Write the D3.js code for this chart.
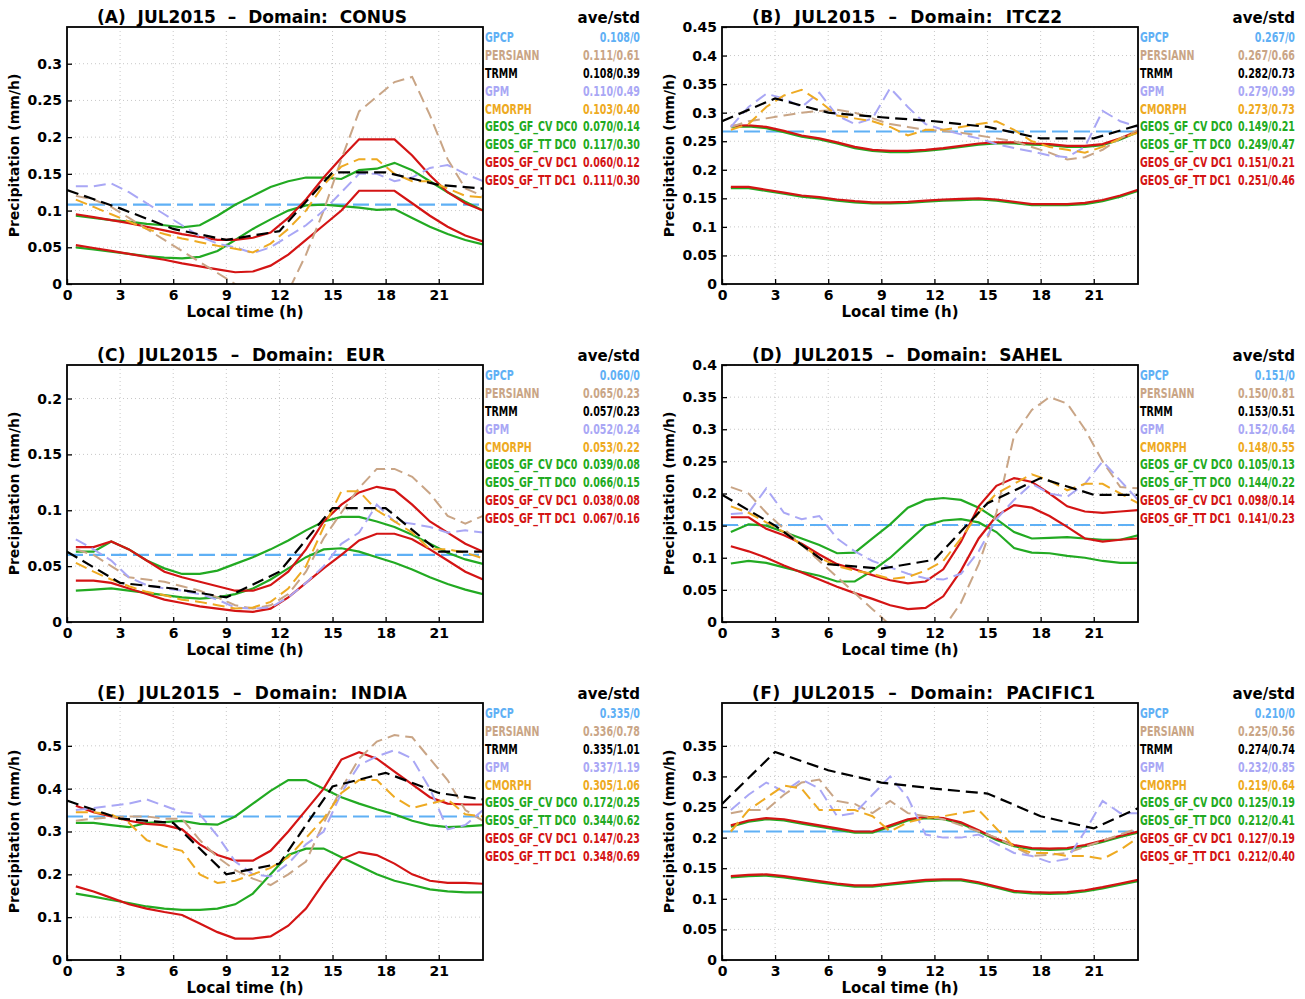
<!DOCTYPE html>
<html>
<head>
<meta charset="utf-8">
<script src="https://cdn.jsdelivr.net/npm/d3@7"></script>
<style>
  body { margin: 0; background: #fff; }
  text { font-family: "DejaVu Sans", sans-serif; }
  .leg { font-weight: bold; font-size: 14px; }
</style>
</head>
<body>
<svg id="chart" width="1305" height="999"></svg>
<script>
// Horas locales (medias horarias) y horas de TRMM (3-horario)
const hours = d3.range(24).map(i => i + 0.5);
const trmmHours = [0, 3, 6, 9, 12, 15, 18, 21, 23.5];
const xTicks = [0, 3, 6, 9, 12, 15, 18, 21];

const seriesNames = ["GPCP", "PERSIANN", "TRMM", "GPM", "CMORPH", "GEOS_GF_CV DC0", "GEOS_GF_TT DC0", "GEOS_GF_CV DC1", "GEOS_GF_TT DC1"];
const seriesColors = ["#5fb0f5", "#c9a586", "#000000", "#a9a7f5", "#eeaa22", "#22aa22", "#22aa22", "#d41414", "#d41414"];

// (A) CONUS
const A_GPCP = 0.108;
const A_PERSIANN = [0.12,0.115,0.105,0.09,0.075,0.06,0.045,0.03,0.015,0.0,-0.02,-0.03,-0.01,0.04,0.10,0.17,0.235,0.255,0.275,0.282,0.23,0.17,0.13,0.12];
const A_TRMM = [0.128,0.103,0.075,0.06,0.072,0.152,0.152,0.135,0.13];
const A_GPM = [0.133,0.133,0.137,0.125,0.11,0.095,0.08,0.065,0.055,0.05,0.042,0.05,0.065,0.08,0.10,0.125,0.15,0.15,0.14,0.145,0.158,0.162,0.15,0.14];
const A_CMORPH = [0.115,0.105,0.095,0.085,0.075,0.068,0.062,0.057,0.052,0.048,0.043,0.055,0.075,0.10,0.135,0.16,0.17,0.17,0.15,0.14,0.14,0.13,0.12,0.118];
const A_CV0 = [0.05,0.047,0.044,0.041,0.038,0.036,0.035,0.037,0.045,0.06,0.075,0.088,0.1,0.107,0.108,0.106,0.104,0.101,0.102,0.09,0.078,0.068,0.06,0.054];
const A_TT0 = [0.093,0.09,0.087,0.085,0.082,0.08,0.077,0.08,0.093,0.108,0.12,0.132,0.14,0.145,0.145,0.143,0.155,0.157,0.165,0.155,0.14,0.125,0.112,0.10];
const A_CV1 = [0.053,0.049,0.045,0.041,0.037,0.033,0.028,0.024,0.02,0.016,0.017,0.025,0.04,0.06,0.08,0.1,0.127,0.127,0.127,0.11,0.093,0.078,0.066,0.058];
const A_TT1 = [0.095,0.091,0.087,0.083,0.078,0.073,0.068,0.064,0.06,0.06,0.063,0.07,0.09,0.115,0.145,0.172,0.197,0.197,0.197,0.175,0.148,0.125,0.11,0.10];
const A_STATS = ["0.108/0", "0.111/0.61", "0.108/0.39", "0.110/0.49", "0.103/0.40", "0.070/0.14", "0.117/0.30", "0.060/0.12", "0.111/0.30"];

// (B) ITCZ2
const B_GPCP = 0.267;
const B_PERSIANN = [0.275,0.285,0.29,0.295,0.3,0.303,0.305,0.3,0.29,0.28,0.275,0.27,0.268,0.265,0.26,0.255,0.25,0.24,0.23,0.218,0.222,0.235,0.255,0.27];
const B_TRMM = [0.285,0.325,0.30,0.292,0.285,0.275,0.255,0.255,0.278];
const B_GPM = [0.275,0.31,0.333,0.325,0.31,0.335,0.295,0.28,0.29,0.343,0.31,0.28,0.27,0.262,0.255,0.245,0.238,0.232,0.225,0.222,0.24,0.303,0.285,0.275];
const B_CMORPH = [0.27,0.28,0.31,0.33,0.34,0.32,0.295,0.29,0.285,0.275,0.26,0.27,0.27,0.275,0.28,0.285,0.27,0.25,0.24,0.235,0.23,0.24,0.255,0.265];
const B_CV0 = [0.168,0.168,0.163,0.158,0.153,0.15,0.146,0.143,0.141,0.141,0.142,0.144,0.146,0.147,0.148,0.146,0.142,0.138,0.138,0.138,0.14,0.145,0.153,0.163];
const B_TT0 = [0.275,0.276,0.273,0.266,0.258,0.253,0.246,0.238,0.233,0.231,0.231,0.233,0.236,0.24,0.244,0.246,0.246,0.244,0.243,0.24,0.24,0.243,0.253,0.266];
const B_CV1 = [0.17,0.17,0.165,0.16,0.155,0.152,0.148,0.145,0.143,0.143,0.144,0.146,0.148,0.149,0.15,0.148,0.144,0.14,0.14,0.14,0.142,0.147,0.155,0.165];
const B_TT1 = [0.277,0.278,0.275,0.268,0.26,0.255,0.248,0.24,0.235,0.233,0.233,0.235,0.238,0.242,0.246,0.248,0.248,0.246,0.245,0.242,0.242,0.245,0.255,0.268];
const B_STATS = ["0.267/0", "0.267/0.66", "0.282/0.73", "0.279/0.99", "0.273/0.73", "0.149/0.21", "0.249/0.47", "0.151/0.21", "0.251/0.46"];

// (C) EUR
const C_GPCP = 0.060;
const C_PERSIANN = [0.065,0.06,0.05,0.04,0.038,0.036,0.032,0.028,0.022,0.015,0.012,0.015,0.025,0.045,0.075,0.098,0.12,0.137,0.137,0.13,0.115,0.095,0.088,0.095];
const C_TRMM = [0.063,0.035,0.03,0.022,0.045,0.102,0.102,0.063,0.063];
const C_GPM = [0.074,0.065,0.055,0.04,0.033,0.03,0.028,0.025,0.02,0.013,0.012,0.013,0.022,0.035,0.05,0.07,0.08,0.105,0.09,0.088,0.085,0.08,0.082,0.08];
const C_CMORPH = [0.053,0.045,0.038,0.032,0.027,0.024,0.02,0.018,0.015,0.012,0.013,0.018,0.03,0.05,0.085,0.117,0.117,0.1,0.09,0.08,0.065,0.065,0.062,0.057];
const C_CV0 = [0.028,0.029,0.03,0.028,0.026,0.024,0.022,0.021,0.022,0.025,0.03,0.038,0.048,0.058,0.065,0.066,0.063,0.058,0.053,0.047,0.04,0.034,0.029,0.025];
const C_TT0 = [0.063,0.063,0.072,0.065,0.055,0.048,0.043,0.043,0.046,0.052,0.058,0.065,0.073,0.082,0.09,0.094,0.094,0.09,0.085,0.078,0.07,0.062,0.056,0.052];
const C_CV1 = [0.037,0.037,0.035,0.03,0.025,0.02,0.017,0.014,0.012,0.01,0.009,0.012,0.022,0.035,0.048,0.06,0.073,0.079,0.079,0.074,0.065,0.055,0.045,0.038];
const C_TT1 = [0.067,0.067,0.072,0.065,0.055,0.045,0.04,0.036,0.032,0.028,0.028,0.033,0.045,0.065,0.09,0.105,0.116,0.121,0.118,0.105,0.09,0.08,0.07,0.063];
const C_STATS = ["0.060/0", "0.065/0.23", "0.057/0.23", "0.052/0.24", "0.053/0.22", "0.039/0.08", "0.066/0.15", "0.038/0.08", "0.067/0.16"];

// (D) SAHEL
const D_GPCP = 0.151;
const D_PERSIANN = [0.21,0.2,0.17,0.145,0.12,0.095,0.07,0.045,0.02,-0.005,-0.03,-0.03,-0.01,0.03,0.09,0.17,0.29,0.33,0.35,0.34,0.30,0.25,0.21,0.208];
const D_TRMM = [0.198,0.15,0.09,0.083,0.097,0.185,0.224,0.198,0.198];
const D_GPM = [0.168,0.17,0.208,0.17,0.16,0.165,0.13,0.11,0.095,0.085,0.075,0.068,0.066,0.075,0.11,0.16,0.19,0.215,0.2,0.195,0.215,0.25,0.22,0.19];
const D_CMORPH = [0.18,0.17,0.155,0.14,0.12,0.1,0.087,0.08,0.075,0.067,0.07,0.08,0.095,0.13,0.17,0.2,0.215,0.23,0.22,0.205,0.215,0.215,0.2,0.185];
const D_CV0 = [0.091,0.095,0.092,0.085,0.078,0.072,0.063,0.063,0.08,0.1,0.125,0.15,0.158,0.16,0.155,0.14,0.115,0.108,0.107,0.103,0.1,0.095,0.092,0.092];
const D_TT0 = [0.14,0.152,0.15,0.14,0.13,0.12,0.107,0.108,0.13,0.152,0.178,0.19,0.193,0.19,0.178,0.16,0.14,0.13,0.131,0.132,0.13,0.128,0.128,0.135];
const D_CV1 = [0.118,0.11,0.1,0.088,0.077,0.066,0.055,0.045,0.036,0.026,0.02,0.022,0.04,0.08,0.13,0.165,0.182,0.178,0.165,0.148,0.13,0.125,0.128,0.13];
const D_TT1 = [0.163,0.163,0.145,0.135,0.122,0.105,0.09,0.082,0.073,0.065,0.06,0.063,0.082,0.125,0.18,0.212,0.224,0.218,0.2,0.18,0.172,0.17,0.172,0.174];
const D_STATS = ["0.151/0", "0.150/0.81", "0.153/0.51", "0.152/0.64", "0.148/0.55", "0.105/0.13", "0.144/0.22", "0.098/0.14", "0.141/0.23"];

// (E) INDIA
const E_GPCP = 0.335;
const E_PERSIANN = [0.325,0.33,0.333,0.335,0.335,0.33,0.33,0.28,0.24,0.21,0.19,0.175,0.2,0.23,0.32,0.4,0.47,0.51,0.525,0.52,0.47,0.42,0.35,0.325];
const E_TRMM = [0.372,0.33,0.32,0.2,0.225,0.405,0.437,0.39,0.375];
const E_GPM = [0.35,0.355,0.36,0.365,0.375,0.36,0.345,0.34,0.29,0.23,0.2,0.195,0.225,0.27,0.3,0.39,0.455,0.475,0.49,0.47,0.4,0.305,0.315,0.35];
const E_CMORPH = [0.345,0.345,0.34,0.32,0.28,0.265,0.255,0.2,0.18,0.185,0.2,0.215,0.24,0.285,0.33,0.39,0.42,0.42,0.38,0.355,0.365,0.375,0.34,0.335];
const E_CV0 = [0.155,0.148,0.14,0.133,0.125,0.12,0.117,0.117,0.12,0.13,0.155,0.2,0.245,0.26,0.26,0.24,0.22,0.2,0.185,0.175,0.165,0.16,0.158,0.158];
const E_TT0 = [0.32,0.32,0.315,0.31,0.32,0.322,0.325,0.318,0.316,0.335,0.365,0.395,0.42,0.42,0.4,0.38,0.365,0.352,0.34,0.325,0.315,0.31,0.312,0.315];
const E_CV1 = [0.172,0.16,0.145,0.13,0.12,0.112,0.105,0.085,0.065,0.05,0.05,0.055,0.08,0.12,0.18,0.235,0.252,0.245,0.225,0.2,0.185,0.18,0.18,0.178];
const E_TT1 = [0.36,0.345,0.335,0.325,0.318,0.315,0.305,0.27,0.245,0.232,0.232,0.255,0.3,0.35,0.4,0.468,0.485,0.47,0.44,0.41,0.38,0.365,0.363,0.363];
const E_STATS = ["0.335/0", "0.336/0.78", "0.335/1.01", "0.337/1.19", "0.305/1.06", "0.172/0.25", "0.344/0.62", "0.147/0.23", "0.348/0.69"];

// (F) PACIFIC1
const F_GPCP = 0.210;
const F_PERSIANN = [0.24,0.245,0.245,0.27,0.29,0.295,0.26,0.255,0.24,0.26,0.24,0.235,0.23,0.22,0.21,0.2,0.185,0.17,0.172,0.175,0.185,0.195,0.205,0.215];
const F_TRMM = [0.255,0.34,0.31,0.29,0.28,0.272,0.235,0.215,0.248];
const F_GPM = [0.245,0.27,0.29,0.275,0.295,0.28,0.235,0.24,0.27,0.3,0.265,0.205,0.2,0.2,0.205,0.19,0.175,0.17,0.16,0.165,0.21,0.26,0.24,0.24];
const F_CMORPH = [0.21,0.245,0.265,0.285,0.28,0.245,0.245,0.245,0.235,0.21,0.225,0.232,0.235,0.24,0.245,0.215,0.185,0.175,0.175,0.17,0.17,0.165,0.18,0.2];
const F_CV0 = [0.135,0.137,0.138,0.135,0.131,0.127,0.123,0.12,0.12,0.123,0.126,0.129,0.13,0.13,0.125,0.118,0.111,0.109,0.108,0.109,0.112,0.117,0.123,0.129];
const F_TT0 = [0.218,0.226,0.23,0.228,0.223,0.218,0.213,0.208,0.208,0.218,0.228,0.232,0.23,0.223,0.21,0.196,0.186,0.181,0.18,0.181,0.186,0.193,0.201,0.208];
const F_CV1 = [0.137,0.139,0.14,0.137,0.133,0.129,0.125,0.122,0.122,0.125,0.128,0.131,0.132,0.132,0.127,0.12,0.113,0.111,0.11,0.111,0.114,0.119,0.125,0.131];
const F_TT1 = [0.22,0.228,0.232,0.23,0.225,0.22,0.215,0.21,0.21,0.22,0.23,0.234,0.232,0.225,0.212,0.198,0.188,0.183,0.182,0.183,0.188,0.195,0.203,0.21];
const F_STATS = ["0.210/0", "0.225/0.56", "0.274/0.74", "0.232/0.85", "0.219/0.64", "0.125/0.19", "0.212/0.41", "0.127/0.19", "0.212/0.40"];

const panels = [
  { label: "(A)", domain: "CONUS", left: 67, top: 27, ymax: 0.35, yTicks: d3.range(0, 0.301, 0.05),
    gpcp: A_GPCP, obs: [A_PERSIANN, A_TRMM, A_GPM, A_CMORPH], models: [A_CV0, A_TT0, A_CV1, A_TT1], stats: A_STATS },
  { label: "(B)", domain: "ITCZ2", left: 722, top: 27, ymax: 0.45, yTicks: d3.range(0, 0.451, 0.05),
    gpcp: B_GPCP, obs: [B_PERSIANN, B_TRMM, B_GPM, B_CMORPH], models: [B_CV0, B_TT0, B_CV1, B_TT1], stats: B_STATS },
  { label: "(C)", domain: "EUR", left: 67, top: 365, ymax: 0.23, yTicks: d3.range(0, 0.201, 0.05),
    gpcp: C_GPCP, obs: [C_PERSIANN, C_TRMM, C_GPM, C_CMORPH], models: [C_CV0, C_TT0, C_CV1, C_TT1], stats: C_STATS },
  { label: "(D)", domain: "SAHEL", left: 722, top: 365, ymax: 0.40, yTicks: d3.range(0, 0.401, 0.05),
    gpcp: D_GPCP, obs: [D_PERSIANN, D_TRMM, D_GPM, D_CMORPH], models: [D_CV0, D_TT0, D_CV1, D_TT1], stats: D_STATS },
  { label: "(E)", domain: "INDIA", left: 67, top: 703, ymax: 0.60, yTicks: d3.range(0, 0.501, 0.1),
    gpcp: E_GPCP, obs: [E_PERSIANN, E_TRMM, E_GPM, E_CMORPH], models: [E_CV0, E_TT0, E_CV1, E_TT1], stats: E_STATS },
  { label: "(F)", domain: "PACIFIC1", left: 722, top: 703, ymax: 0.42, yTicks: d3.range(0, 0.351, 0.05),
    gpcp: F_GPCP, obs: [F_PERSIANN, F_TRMM, F_GPM, F_CMORPH], models: [F_CV0, F_TT0, F_CV1, F_TT1], stats: F_STATS }
];

const svg = d3.select('#chart');
const W = 416, H = 257;
const SX = 0.68; // compresión horizontal de la leyenda
const fmtY = v => v === 0 ? "0" : d3.format("")(+v.toFixed(2)).toString();

panels.forEach((p, pi) => {
  const g = svg.append('g').attr('transform', `translate(${p.left},${p.top})`);
  const x = d3.scaleLinear().domain([0, 23.5]).range([0, W]);
  const y = d3.scaleLinear().domain([0, p.ymax]).range([H, 0]);

  g.append('clipPath').attr('id', 'clip' + pi)
    .append('rect').attr('width', W).attr('height', H);

  // rejilla punteada
  g.selectAll('.gx').data(xTicks.slice(1)).enter().append('line')
    .attr('x1', d => x(d)).attr('x2', d => x(d)).attr('y1', 0).attr('y2', H)
    .attr('stroke', '#c8c8c8').attr('stroke-dasharray', '1,3');
  g.selectAll('.gy').data(p.yTicks.slice(1)).enter().append('line')
    .attr('x1', 0).attr('x2', W).attr('y1', d => y(d)).attr('y2', d => y(d))
    .attr('stroke', '#c8c8c8').attr('stroke-dasharray', '1,3');

  const plot = g.append('g').attr('clip-path', `url(#clip${pi})`);
  const line = d3.line().x(d => x(d[0])).y(d => y(d[1]));

  const drawSeries = (xs, vals, color, dash, width) => {
    plot.append('path')
      .datum(xs.map((h, i) => [h, vals[i]]))
      .attr('d', line)
      .attr('fill', 'none')
      .attr('stroke', color)
      .attr('stroke-width', width)
      .attr('stroke-dasharray', dash);
  };

  // GPCP: media diaria constante
  drawSeries([0, 23.5], [p.gpcp, p.gpcp], seriesColors[0], '16,6', 2.2);
  // modelos
  p.models.forEach((vals, i) => drawSeries(hours, vals, seriesColors[5 + i], null, 2.2));
  // observaciones
  drawSeries(hours, p.obs[0], seriesColors[1], '12,6', 2);
  drawSeries(hours, p.obs[2], seriesColors[3], '12,6', 2);
  drawSeries(hours, p.obs[3], seriesColors[4], '12,6', 2);
  drawSeries(trmmHours, p.obs[1], seriesColors[2], '12,6', 2.2);

  // ejes
  const xAxis = d3.axisBottom(x).tickValues(xTicks).tickSize(-5).tickPadding(6).tickFormat(d3.format('d'));
  const yAxis = d3.axisLeft(y).tickValues(p.yTicks).tickSize(-5).tickPadding(5).tickFormat(fmtY);
  const gx = g.append('g').attr('transform', `translate(0,${H})`).call(xAxis);
  const gy = g.append('g').call(yAxis);
  [gx, gy].forEach(a => {
    a.select('.domain').remove();
    a.selectAll('text').attr('font-size', 14).attr('font-weight', 'bold').attr('fill', '#000');
    a.selectAll('line').attr('stroke', '#000').attr('stroke-width', 1.3);
  });
  g.append('rect').attr('width', W).attr('height', H)
    .attr('fill', 'none').attr('stroke', '#000').attr('stroke-width', 1.8);

  g.append('text').attr('x', W / 2 - 30).attr('y', H + 33).attr('text-anchor', 'middle')
    .attr('font-size', 15).attr('font-weight', 'bold').text('Local time (h)');
  g.append('text').attr('transform', `translate(-48,${H / 2}) rotate(-90)`).attr('text-anchor', 'middle')
    .attr('font-size', 14).attr('font-weight', 'bold').text('Precipitation (mm/h)');
  g.append('text').attr('x', 30).attr('y', -4)
    .attr('font-size', 17).attr('font-weight', 'bold')
    .attr('textLength', p.domain.length * 11 + 255).attr('lengthAdjust', 'spacing')
    .attr('xml:space', 'preserve')
    .text(`${p.label}  JUL2015  \u2013  Domain:  ${p.domain}`);

  // leyenda
  g.append('text').attr('x', W + 157).attr('y', -4).attr('text-anchor', 'end')
    .attr('font-size', 15).attr('font-weight', 'bold').text('ave/std');
  const leg = g.append('g').attr('transform', `translate(${W + 2},0) scale(${SX},1)`);
  seriesNames.forEach((name, i) => {
    const ly = 15 + i * 17.9;
    leg.append('text').attr('class', 'leg').attr('x', 0).attr('y', ly)
      .attr('fill', seriesColors[i]).text(name);
    leg.append('text').attr('class', 'leg').attr('x', 155 / SX).attr('y', ly)
      .attr('text-anchor', 'end').attr('fill', seriesColors[i]).text(p.stats[i]);
  });
});
</script>
</body>
</html>
